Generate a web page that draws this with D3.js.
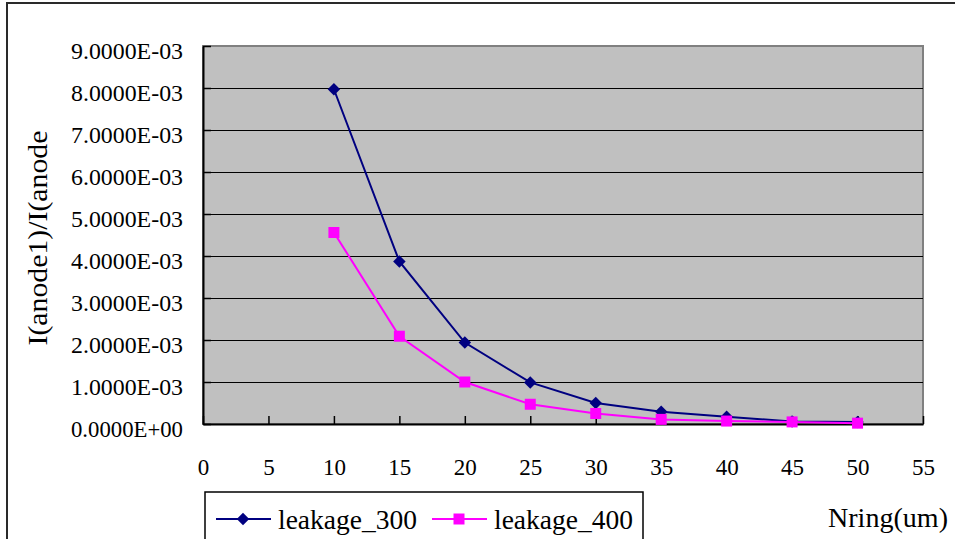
<!DOCTYPE html>
<html>
<head>
<meta charset="utf-8">
<script src="https://cdn.jsdelivr.net/npm/d3@7"></script>
<style>
  html, body { margin: 0; padding: 0; background: #ffffff; }
  svg { display: block; }
  text { font-family: "Liberation Serif", "Times New Roman", serif; fill: #000; }
</style>
</head>
<body>
<svg id="chart" width="955" height="539"></svg>
<script>
// Ring count (x) and current ratio for each leakage series
const nring = [10, 15, 20, 25, 30, 35, 40, 45, 50];
const leakage300 = [7.97e-3, 3.87e-3, 1.94e-3, 0.99e-3, 0.50e-3, 0.29e-3, 0.17e-3, 0.06e-3, 0.05e-3];
const leakage400 = [4.56e-3, 2.09e-3, 1.00e-3, 0.47e-3, 0.25e-3, 0.11e-3, 0.07e-3, 0.05e-3, 0.02e-3];
const xTicks = [0, 5, 10, 15, 20, 25, 30, 35, 40, 45, 50, 55];
const yTicks = [0, 1e-3, 2e-3, 3e-3, 4e-3, 5e-3, 6e-3, 7e-3, 8e-3, 9e-3];
const seriesNames = ["leakage_300", "leakage_400"];
const seriesColors = ["#000080", "#FF00FF"];

const FONT = '"Liberation Serif", "Times New Roman", serif';
const svg = d3.select("#chart");
const plot = { left: 203, right: 923, top: 46, bottom: 424 };

const x = d3.scaleLinear().domain([0, 55]).range([plot.left, plot.right]);
const y = d3.scaleLinear().domain([0, 9e-3]).range([plot.bottom, plot.top]);

// Scientific format like 9.0000E-03
function sci(d) {
  const [m, e] = d.toExponential(4).split("e");
  const sign = e[0] === "-" ? "-" : "+";
  const ex = String(Math.abs(+e)).padStart(2, "0");
  return m + "E" + sign + ex;
}

// Outer chart frame
svg.append("rect")
  .attr("x", 7).attr("y", 3).attr("width", 980).attr("height", 580)
  .attr("fill", "none").attr("stroke", "#2a2a2a").attr("stroke-width", 2);

// Plot background
svg.append("rect")
  .attr("x", plot.left).attr("y", plot.top)
  .attr("width", plot.right - plot.left).attr("height", plot.bottom - plot.top)
  .attr("fill", "#C0C0C0").attr("stroke", "#808080").attr("stroke-width", 2);

// Horizontal gridlines
svg.append("g").selectAll("line")
  .data(yTicks.filter(d => d > 0 && d < 9e-3))
  .join("line")
  .attr("x1", plot.left).attr("x2", plot.right)
  .attr("y1", d => Math.round(y(d)) + 0.5).attr("y2", d => Math.round(y(d)) + 0.5)
  .attr("stroke", "#000").attr("stroke-width", 1);

// Y axis
const yAxis = svg.append("g")
  .attr("transform", `translate(${plot.left},0)`)
  .call(d3.axisLeft(y).tickValues(yTicks).tickFormat(sci).tickSizeInner(-8).tickSizeOuter(0).tickPadding(20));
yAxis.select(".domain").attr("stroke", "#000").attr("stroke-width", 2);
yAxis.selectAll(".tick line").attr("stroke", "#000").attr("stroke-width", 1.5);
yAxis.selectAll(".tick text")
  .attr("dy", null).attr("y", 12)
  .style("font-family", FONT).style("font-size", "23px")
  .attr("textLength", 112).attr("lengthAdjust", "spacingAndGlyphs");

// X axis
const xAxis = svg.append("g")
  .attr("transform", `translate(0,${plot.bottom})`)
  .call(d3.axisBottom(x).tickValues(xTicks).tickFormat(d3.format("d")).tickSizeInner(-8).tickSizeOuter(0).tickPadding(51));
xAxis.select(".domain").attr("stroke", "#000").attr("stroke-width", 2);
xAxis.selectAll(".tick line").attr("stroke", "#000").attr("stroke-width", 1.5);
xAxis.selectAll(".tick text")
  .attr("dy", null).attr("y", 51)
  .style("font-family", FONT).style("font-size", "23px");

// Axis titles
svg.append("text")
  .attr("transform", "translate(47,238) rotate(-90)")
  .attr("text-anchor", "middle")
  .style("font-family", FONT).style("font-size", "27px")
  .attr("textLength", 215).attr("lengthAdjust", "spacingAndGlyphs")
  .text("I(anode1)/I(anode");

svg.append("text")
  .attr("x", 828).attr("y", 527)
  .style("font-family", FONT).style("font-size", "28px")
  .attr("textLength", 120).attr("lengthAdjust", "spacingAndGlyphs")
  .text("Nring(um)");

// Series
const series = [leakage300, leakage400];
const markerPaths = [
  d3.symbol(d3.symbolSquare, 78)(),
  d3.symbol(d3.symbolSquare, 121)()
];
const markerRot = [45, 0];

const line = d3.line().x(d => x(d[0])).y(d => y(d[1]));

series.forEach((vals, i) => {
  const pts = nring.map((n, j) => [n, vals[j]]);
  const g = svg.append("g");
  g.append("path")
    .attr("d", line(pts))
    .attr("fill", "none").attr("stroke", seriesColors[i]).attr("stroke-width", 2);
  g.selectAll("path.marker")
    .data(pts)
    .join("path")
    .attr("class", "marker")
    .attr("d", markerPaths[i])
    .attr("transform", d => `translate(${x(d[0])},${y(d[1])}) rotate(${markerRot[i]})`)
    .attr("fill", seriesColors[i]);
});

// Legend
const legend = svg.append("g");
legend.append("rect")
  .attr("x", 205).attr("y", 492).attr("width", 438).attr("height", 80)
  .attr("fill", "#fff").attr("stroke", "#000").attr("stroke-width", 1.5);

const legendX = [216, 432];
seriesNames.forEach((name, i) => {
  const lx = legendX[i];
  legend.append("line")
    .attr("x1", lx).attr("x2", lx + 55).attr("y1", 519).attr("y2", 519)
    .attr("stroke", seriesColors[i]).attr("stroke-width", 2);
  legend.append("path")
    .attr("d", markerPaths[i])
    .attr("transform", `translate(${lx + 27},519) rotate(${markerRot[i]})`)
    .attr("fill", seriesColors[i]);
  legend.append("text")
    .attr("x", lx + 62).attr("y", 529)
    .style("font-family", FONT).style("font-size", "27px")
    .attr("textLength", 139).attr("lengthAdjust", "spacingAndGlyphs")
    .text(name);
});
</script>
</body>
</html>
